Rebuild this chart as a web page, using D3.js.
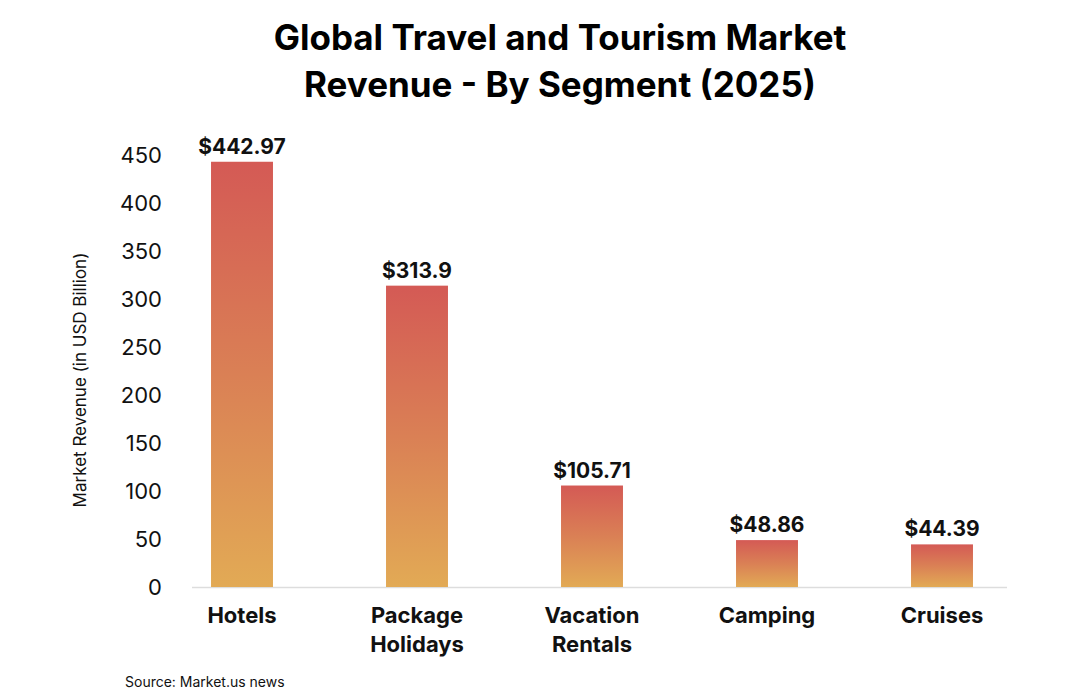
<!DOCTYPE html>
<html>
<head>
<meta charset="utf-8">
<script src="https://cdn.jsdelivr.net/npm/d3@7"></script>
<style>
  body { margin: 0; background: #fff; }
  text { font-family: Inter, "Open Sans", sans-serif; }
</style>
</head>
<body>
<svg id="chart" width="1080" height="700"></svg>
<script>
const categories = [["Hotels"], ["Package", "Holidays"], ["Vacation", "Rentals"], ["Camping"], ["Cruises"]];
const values = [442.97, 313.9, 105.71, 48.86, 44.39];
const labels = ["$442.97", "$313.9", "$105.71", "$48.86", "$44.39"];
const yTicks = [0, 50, 100, 150, 200, 250, 300, 350, 400, 450];

const svg = d3.select("#chart");
const keys = categories.map(c => c.join(" "));

// Scales
const xScale = d3.scaleBand()
      .domain(keys)
      .range([154.5, 1029.5])
      .paddingInner(0.646)
      .paddingOuter(0.323);

const yScale = d3.scaleLinear()
      .domain([0, 450])
      .range([587, 155]);

// gradient
const defs = svg.append("defs");
const grad = defs.append("linearGradient")
      .attr("id", "barGrad")
      .attr("x1", 0).attr("y1", 0).attr("x2", 0).attr("y2", 1);
grad.append("stop").attr("offset", "0%").attr("stop-color", "#d45a55");
grad.append("stop").attr("offset", "50%").attr("stop-color", "#da8055");
grad.append("stop").attr("offset", "100%").attr("stop-color", "#e2aa55");

// Title
svg.append("text")
      .attr("x", 560).attr("y", 50)
      .attr("text-anchor", "middle")
      .attr("font-size", "35px").attr("font-weight", 700)
      .text("Global Travel and Tourism Market");
svg.append("text")
      .attr("x", 560).attr("y", 97)
      .attr("text-anchor", "middle")
      .attr("font-size", "35px").attr("font-weight", 700)
      .text("Revenue - By Segment (2025)");

// Y axis
const yAxis = d3.axisLeft(yScale).tickValues(yTicks).tickSize(0).tickPadding(0);
const yAxisG = svg.append("g")
      .attr("transform", "translate(162,0)")
      .call(yAxis);
yAxisG.select(".domain").remove();
yAxisG.selectAll("text")
      .attr("font-size", "22px")
      .attr("fill", "#111")
      .style("font-family", "Inter, sans-serif");

svg.append("text")
      .attr("transform", "translate(86,380) rotate(-90)")
      .attr("text-anchor", "middle")
      .attr("font-size", "17px")
      .attr("fill", "#111")
      .text("Market Revenue (in USD Billion)");

// baseline
svg.append("line")
      .attr("x1", 192).attr("x2", 1007)
      .attr("y1", yScale(0) + 0.5).attr("y2", yScale(0) + 0.5)
      .attr("stroke", "#dddddd").attr("stroke-width", 1.5);

// Bars
svg.selectAll("rect.bar")
      .data(values).enter()
      .append("rect")
      .attr("class", "bar")
      .attr("x", (d, i) => xScale(keys[i]))
      .attr("y", d => yScale(d))
      .attr("width", xScale.bandwidth())
      .attr("height", d => yScale(0) - yScale(d))
      .attr("fill", "url(#barGrad)");

// value labels
svg.selectAll("text.val")
      .data(values).enter()
      .append("text")
      .attr("class", "val")
      .attr("x", (d, i) => xScale(keys[i]) + xScale.bandwidth() / 2)
      .attr("y", d => yScale(d) - 8)
      .attr("text-anchor", "middle")
      .attr("font-size", "21px").attr("font-weight", 700)
      .attr("fill", "#111")
      .text((d, i) => labels[i]);

// category labels
categories.forEach((lines, i) => {
      const t = svg.append("text")
            .attr("x", xScale(keys[i]) + xScale.bandwidth() / 2)
            .attr("y", 623)
            .attr("text-anchor", "middle")
            .attr("font-size", "22px").attr("font-weight", 700)
            .attr("fill", "#111");
      lines.forEach((l, j) => {
            t.append("tspan")
                  .attr("x", xScale(keys[i]) + xScale.bandwidth() / 2)
                  .attr("dy", j === 0 ? 0 : 29)
                  .text(l);
      });
});

// source
svg.append("text")
      .attr("x", 125).attr("y", 687)
      .attr("font-size", "14px")
      .attr("fill", "#111")
      .text("Source: Market.us news");
</script>
</body>
</html>
